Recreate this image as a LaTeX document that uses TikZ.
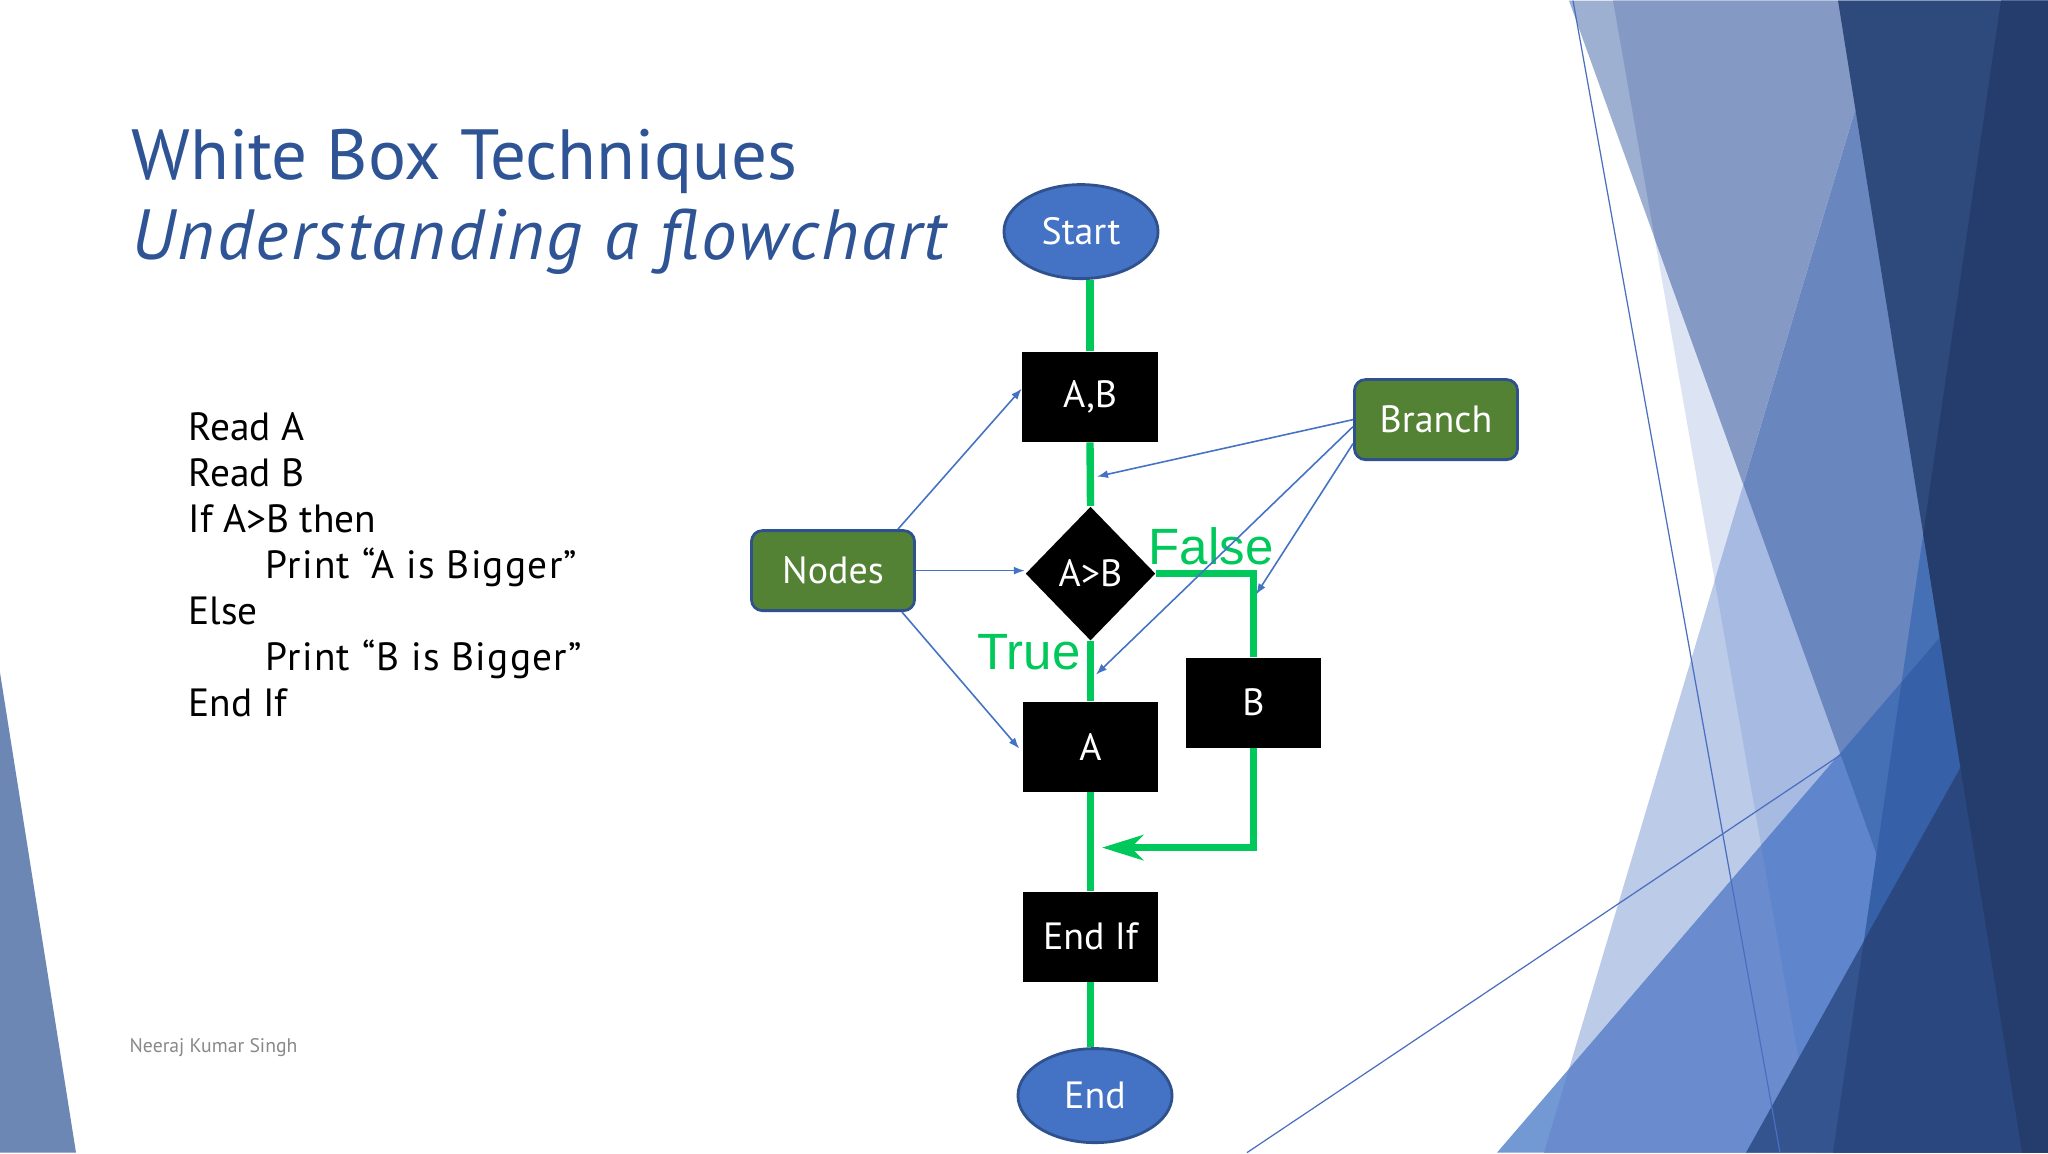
\documentclass[tikz,border=0pt]{standalone}
\usepackage{fontspec}
\setmainfont{PT Sans}
\newfontfamily\arialfont{Liberation Sans}
\usetikzlibrary{shapes.geometric,arrows.meta}
\definecolor{titleblue}{RGB}{46,84,150}
\definecolor{flowgreen}{RGB}{0,200,90}
\definecolor{nodeblue}{RGB}{68,114,196}
\definecolor{edgeblue}{RGB}{47,82,143}
\definecolor{boxgreen}{RGB}{84,130,53}
\definecolor{footgray}{RGB}{137,137,137}
\definecolor{bgA}{HTML}{DCE3F3}
\definecolor{bgB}{HTML}{9DB0D2}
\definecolor{bgC}{HTML}{8599C5}
\definecolor{bgD}{HTML}{BCCBE8}
\definecolor{bgE}{HTML}{A7BBE2}
\definecolor{bgF}{HTML}{6A86BE}
\definecolor{bgG}{HTML}{7399D4}
\definecolor{bgGG}{HTML}{6A8CCF}
\definecolor{bgH}{HTML}{5F86CC}
\definecolor{bgI}{HTML}{4570B5}
\definecolor{bgM}{HTML}{3660A8}
\definecolor{bgN}{HTML}{33548F}
\definecolor{bgO}{HTML}{2A4780}
\definecolor{bgK}{HTML}{2E4A7C}
\definecolor{bgL}{HTML}{243D6C}
\definecolor{bgLeft}{HTML}{6D87B5}
\definecolor{thinblue}{HTML}{4A6FC0}
\pgfdeclarelayer{backdrop}
\pgfdeclarelayer{lines}
\pgfsetlayers{backdrop,lines,main}
\begin{document}
\begin{tikzpicture}[x=0.01cm,y=-0.01cm,
  oval/.style={ellipse,fill=nodeblue,draw=edgeblue,line width=0.8pt,minimum width=1.54cm,minimum height=0.94cm,inner sep=0pt,text=white,font=\fontsize{10.8}{13}\selectfont},
  blackbox/.style={rectangle,fill=black,minimum width=1.35cm,minimum height=0.90cm,inner sep=0pt,text=white,font=\fontsize{10.8}{13}\selectfont},
  decision/.style={diamond,fill=black,minimum width=1.30cm,minimum height=1.34cm,inner sep=0pt,text=white,font=\fontsize{10.8}{13}\selectfont},
  callout/.style={rectangle,rounded corners=0.11cm,fill=boxgreen,draw=edgeblue,line width=0.8pt,minimum width=1.63cm,minimum height=0.80cm,inner sep=0pt,text=white,font=\fontsize{10.8}{13}\selectfont},
  flow/.style={draw=flowgreen,line width=2.1pt},
  pointer/.style={draw=nodeblue,line width=0.45pt,-{Latex[length=0.11cm,width=0.08cm]}},
  codeline/.style={anchor=base west,inner sep=0pt,font=\fontsize{11.2}{13}\selectfont},
  tflabel/.style={anchor=base west,inner sep=0pt,text=flowgreen,font=\arialfont\fontsize{14.5}{17}\selectfont},
  thinline/.style={draw=thinblue,line width=0.35pt}
]
\begin{pgfonlayer}{backdrop}
  \fill[white] (0,0) rectangle (2048,1152);
  \fill[bgLeft] (0,672) -- (76,1152) -- (0,1152) -- cycle;
  % right of L3
  \fill[bgA] (1613,0) -- (2048,0) -- (2048,1152) -- (1815,1152) -- cycle;
  % right of W
  \fill[bgB] (1569,0) -- (2048,0) -- (2048,1152) -- (1984,1152) -- cycle;
  \begin{scope}
    \clip (1569,0) -- (2048,0) -- (2048,1152) -- (1984,1152) -- cycle;
    \fill[bgC] (1613,0) -- (2048,0) -- (2048,1152) -- (1815,1152) -- cycle;
  \end{scope}
  % T3 triangle
  \fill[bgD] (1855,110) -- (2048,110) -- (2048,1152) -- (1544,1152) -- cycle;
  \begin{scope}
    \clip (1855,110) -- (2048,110) -- (2048,1152) -- (1544,1152) -- cycle;
    \fill[bgE] (1613,0) -- (2048,0) -- (2048,1152) -- (1815,1152) -- cycle;
    \fill[bgF] (1569,0) -- (2048,0) -- (2048,1152) -- (1984,1152) -- cycle;
  \end{scope}
  % band
  \fill[bgG] (1497,1152) -- (2048,511) -- (2048,1152) -- cycle;
  \begin{scope}
    \clip (1497,1152) -- (2048,511) -- (2048,1152) -- cycle;
    \fill[bgGG] (1855,110) -- (2048,110) -- (2048,1152) -- (1544,1152) -- cycle;
    \begin{scope}
      \clip (1855,110) -- (2048,110) -- (2048,1152) -- (1544,1152) -- cycle;
      \fill[bgH] (1613,0) -- (2048,0) -- (2048,1152) -- (1815,1152) -- cycle;
    \end{scope}
    \fill[bgI] (1569,0) -- (2048,0) -- (2048,1152) -- (1984,1152) -- cycle;
  \end{scope}
  % dark line shape
  \begin{scope}
    \clip (2001,0) -- (2048,0) -- (2048,1152) -- (1833,1152) -- cycle;
    \fill[bgI] (1569,0) -- (2048,0) -- (2048,1152) -- (1984,1152) -- cycle;
    \fill[bgM] (1497,1152) -- (2048,511) -- (2048,1152) -- cycle;
  \end{scope}
  % V triangle
  \fill[bgN] (1746,1152) -- (2048,610) -- (2048,1152) -- cycle;
  \begin{scope}
    \clip (1746,1152) -- (2048,610) -- (2048,1152) -- cycle;
    \fill[bgO] (2001,0) -- (2048,0) -- (2048,1152) -- (1833,1152) -- cycle;
  \end{scope}
  % navy
  \fill[bgK] (1838,0) -- (2048,0) -- (2048,1152) -- (2022,1152) -- cycle;
  \begin{scope}
    \clip (1838,0) -- (2048,0) -- (2048,1152) -- (2022,1152) -- cycle;
    \fill[bgL] (2001,0) -- (2048,0) -- (2048,1152) -- (1833,1152) -- cycle;
  \end{scope}
  \draw[thinline] (1573,0) -- (1780,1152);
  \draw[thinline] (1247,1152) -- (1841,754);
\end{pgfonlayer}
\useasboundingbox (0,0) rectangle (2048,1152);

% titles
\node[anchor=base west,inner sep=0pt,text=titleblue,font=\fontsize{20.2}{24}\selectfont] (title) at (131,179) {White Box Techniques};
\node[anchor=base west,inner sep=0pt,text=titleblue,font=\itshape\fontsize{20.2}{24}\selectfont\addfontfeature{LetterSpace=3.3}] (subtitle) at (131,259) {Understanding a flowchart};

% pseudo code
\node[codeline] (c1) at (188,440) {Read A};
\node[codeline] (c2) at (188,486) {Read B};
\node[codeline] (c3) at (188,532) {If A>B then};
\node[codeline,font=\fontsize{11.2}{13}\selectfont\addfontfeature{LetterSpace=3.2}] (c4) at (265,578) {Print “A is Bigger”};
\node[codeline] (c5) at (188,624) {Else};
\node[codeline,font=\fontsize{11.2}{13}\selectfont\addfontfeature{LetterSpace=3.2}] (c6) at (265,670) {Print “B is Bigger”};
\node[codeline] (c7) at (188,716) {End If};

\node[anchor=base west,inner sep=0pt,text=footgray,font=\fontsize{5.6}{7}\selectfont] (footer) at (129,1052) {Neeraj Kumar Singh};

% flowchart nodes
\node[oval] (start) at (1081,231) {Start};
\node[blackbox] (ab) at (1090,396) {A,B};
\node[decision] (dec) at (1090.5,573) {A>B};
\node[blackbox] (a) at (1090.5,746) {A};
\node[blackbox] (b) at (1253.5,702) {B};
\node[blackbox] (endif) at (1090.5,936) {End If};
\node[oval] (end) at (1095,1095) {End};
\node[callout] (nodes) at (833,570) {Nodes};
\node[callout] (branch) at (1436,419) {Branch};

\coordinate (merge) at (1102,847);
\coordinate (p1) at (1097,476);
\coordinate (p2) at (1096,674);
\coordinate (p3) at (1256,594);

\begin{pgfonlayer}{lines}
  \draw[flow] (ab.north) -- (ab.north |- start.south);
  \draw[flow] (ab.south) -- (dec.north);
  \draw[flow] (dec.south) -- (a.north);
  \draw[flow] (a.south) -- (endif.north);
  \draw[flow] (endif.south) -- (endif.south |- end.north);
  \draw[flow] (dec.east) -| (b.north);
  \draw[flow,-{Stealth[length=0.41cm,width=0.25cm,inset=0.12cm]}] (b.south) |- (merge);
\end{pgfonlayer}

\node[tflabel] (falselbl) at (1148,564) {False};
\node[tflabel] (truelbl) at (977,669) {True};

% pointers
\draw[pointer] ([xshift=-0.18cm]nodes.north east) -- ([yshift=0.08cm]ab.west);
\draw[pointer] (nodes.east) -- (nodes.east -| dec.west);
\draw[pointer] ([xshift=-0.14cm]nodes.south east) -- ([xshift=-0.03cm,yshift=-0.02cm]a.west);
\draw[pointer] (branch.west) -- (p1);
\draw[pointer] ([yshift=-0.07cm]branch.west) -- (p2);
\draw[pointer] ([yshift=-0.24cm]branch.west) -- (p3);
\end{tikzpicture}
\end{document}
